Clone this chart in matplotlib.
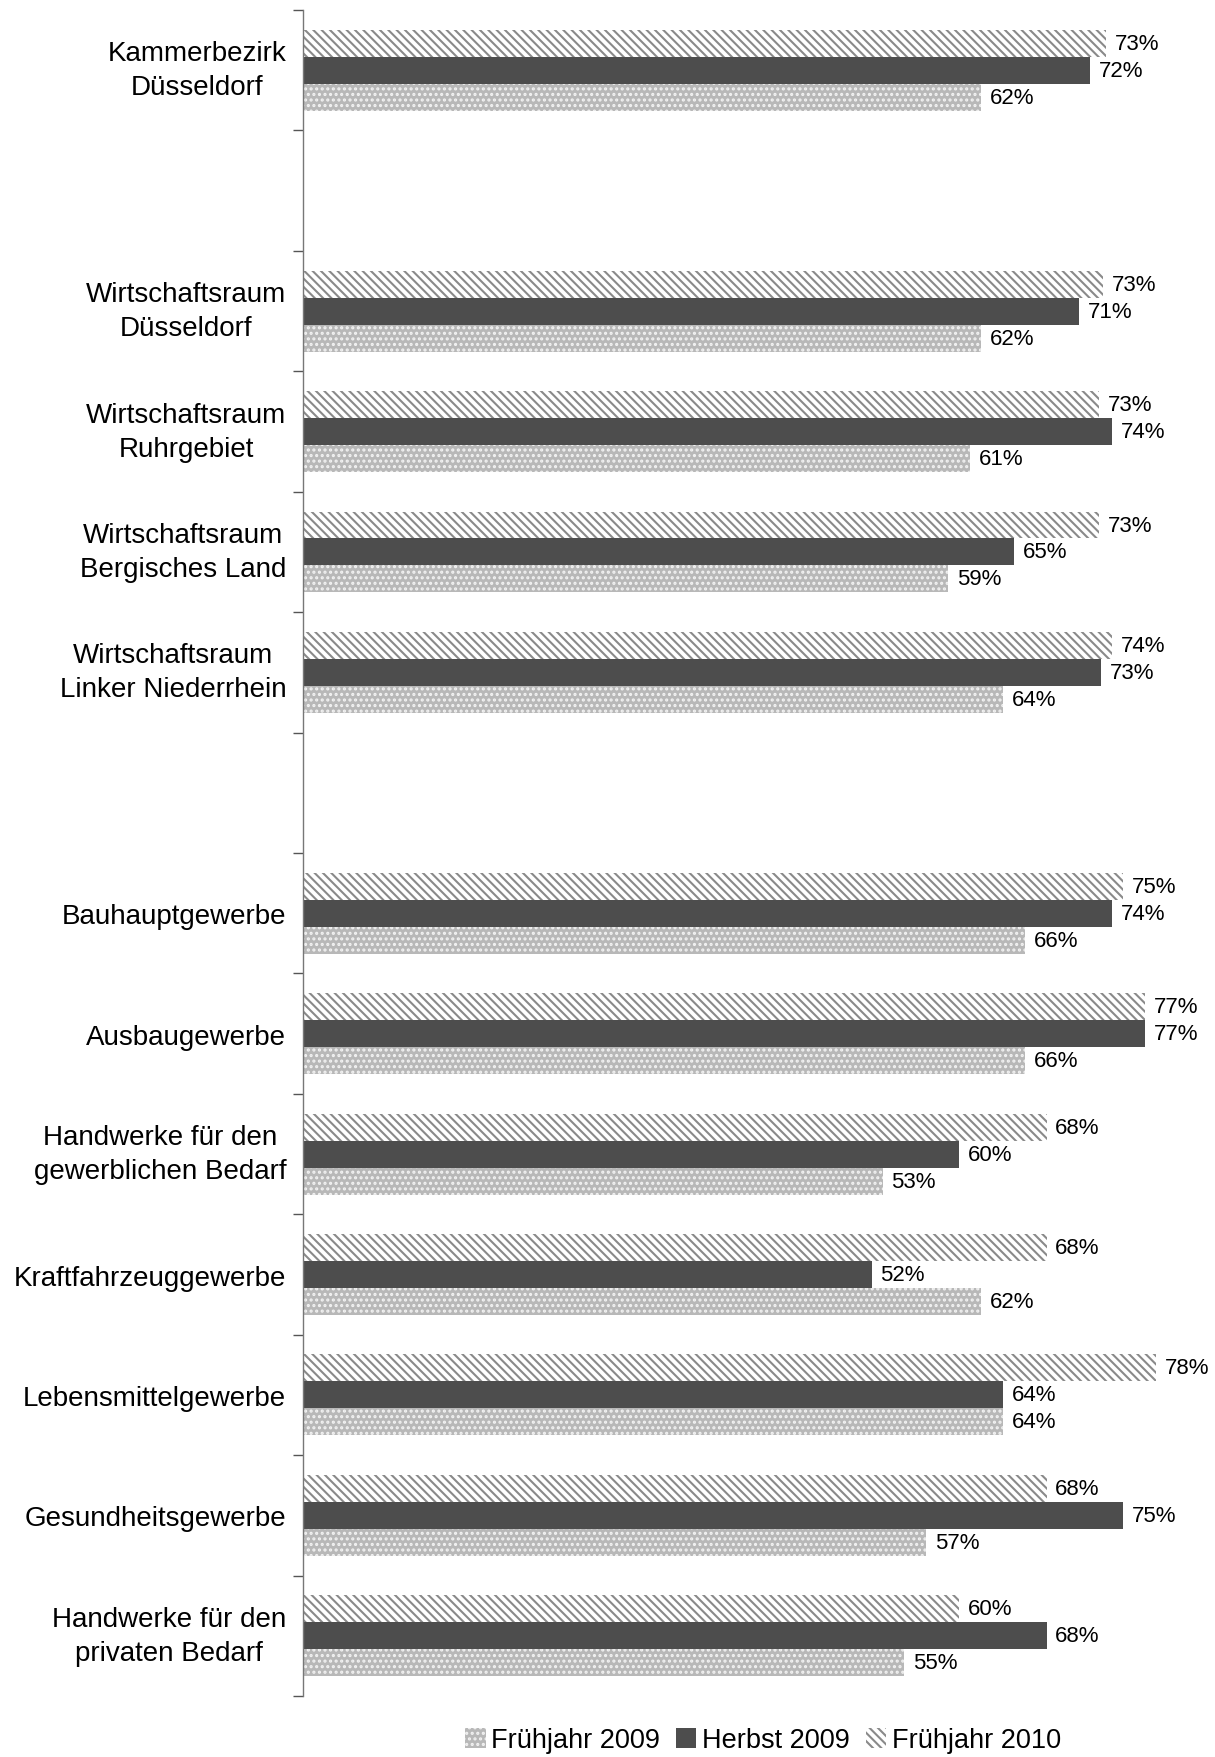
import numpy as np
import matplotlib
matplotlib.use("Agg")
import matplotlib.pyplot as plt
import matplotlib.transforms as mtransforms
from matplotlib.patches import Patch

plt.rcParams['font.family'] = ['Liberation Sans', 'DejaVu Sans']
plt.rcParams['hatch.linewidth'] = 1.5

categories = ['Kammerbezirk\nDüsseldorf', '',
              'Wirtschaftsraum\nDüsseldorf', 'Wirtschaftsraum\nRuhrgebiet',
              'Wirtschaftsraum\nBergisches Land', 'Wirtschaftsraum\nLinker Niederrhein', '',
              'Bauhauptgewerbe', 'Ausbaugewerbe', 'Handwerke für den\ngewerblichen Bedarf',
              'Kraftfahrzeuggewerbe', 'Lebensmittelgewerbe', 'Gesundheitsgewerbe',
              'Handwerke für den\nprivaten Bedarf']

fruehjahr_2009 = [62, np.nan, 62, 61, 59, 64, np.nan, 66, 66, 53, 62, 64, 57, 55]
herbst_2009 = [72, np.nan, 71, 74, 65, 73, np.nan, 74, 77, 60, 52, 64, 75, 68]
fruehjahr_2010 = [73.4, np.nan, 73.2, 72.8, 72.8, 74, np.nan, 75, 77, 68, 68, 78, 68, 60]

series_names = ['Frühjahr 2009', 'Herbst 2009', 'Frühjahr 2010']

fig = plt.figure(figsize=(12.15, 17.58), dpi=100)
ax = fig.add_axes([0.2494, 0.0347, 0.72, 0.959])

y = np.arange(len(categories))
h = 0.224

styles = [
    dict(color='#b8b8b8', edgecolor='#f2f2f2', hatch='...', linewidth=0),
    dict(color='#4d4d4d', edgecolor='#4d4d4d', linewidth=0),
    dict(color='white', edgecolor='#8a8a8a', hatch='\\\\\\\\', linewidth=0),
]
offsets = [h, 0, -h]

for vals, st, off in zip([fruehjahr_2009, herbst_2009, fruehjahr_2010], styles, offsets):
    vals = np.array(vals, dtype=float)
    ax.barh(y + off, vals, height=h, **st)
    for yi, v in zip(y, vals):
        if np.isnan(v):
            continue
        ax.text(v + 0.8, yi + off, f'{v:.0f}%', va='center', ha='left',
                fontsize=16, color='black', clip_on=False)

ax.set_xlim(0, 80)
ax.set_ylim(len(categories) - 0.5, -0.5)

ax.set_yticks(np.arange(-0.5, len(categories)), minor=False)
ax.set_yticklabels([])
ax.set_yticks(y, minor=True)
ax.set_yticklabels(categories, minor=True, fontsize=20, multialignment='center',
                   linespacing=1.4)
ax.tick_params(axis='y', which='minor', length=0, pad=12)
ax.tick_params(axis='y', which='major', length=7, width=1, color='#555555', direction='out')
ax.set_xticks([])

# two-line labels sit a bit higher in the original
shift = mtransforms.ScaledTranslation(0, 5 / 72, fig.dpi_scale_trans)
for lab in ax.get_yticklabels(minor=True):
    if '\n' in lab.get_text():
        lab.set_transform(lab.get_transform() + shift)

for s in ['top', 'right', 'bottom']:
    ax.spines[s].set_visible(False)
ax.spines['left'].set_color('#777777')
ax.spines['left'].set_linewidth(1)

handles = [Patch(facecolor=st['color'], edgecolor=st['edgecolor'], hatch=st.get('hatch'),
                 linewidth=0, label=n) for st, n in zip(styles, series_names)]
fig.legend(handles=handles, loc='center', bbox_to_anchor=(0.628, 0.0095), ncol=3,
           frameon=False, fontsize=19.5, handlelength=0.75, handleheight=0.75,
           handletextpad=0.2, columnspacing=0.6, borderaxespad=0)

fig.savefig('out.png', dpi=100)
